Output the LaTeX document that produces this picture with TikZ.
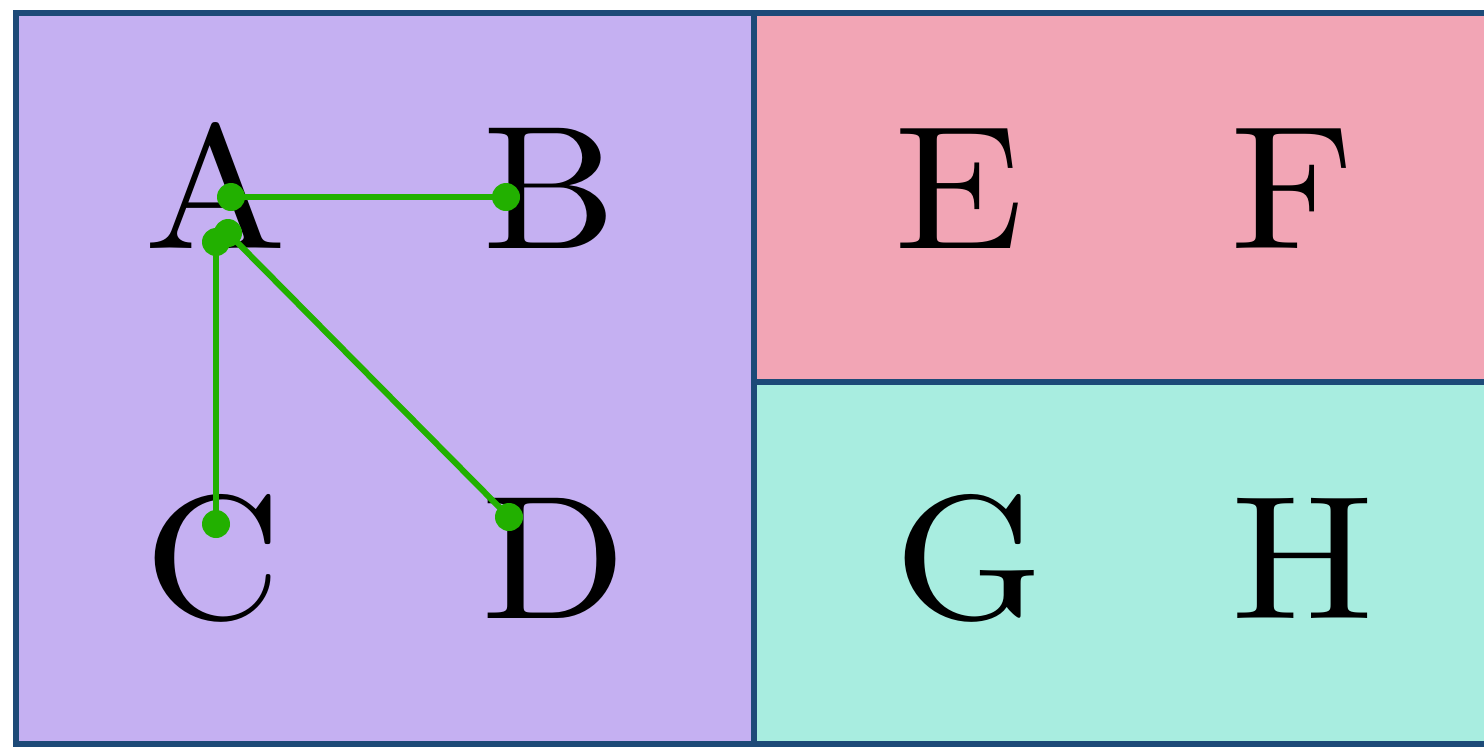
\documentclass[tikz,border=0pt]{standalone}
\usepackage{fontspec}
\newfontfamily\lmten{lmroman10-regular.otf}[FakeStretch=1.08]
\begin{document}
\begin{tikzpicture}[x=0.5pt,y=-0.5pt,
  letter/.style={anchor=base,inner sep=0pt,font=\lmten\fontsize{88}{94}\selectfont},
  panel/.style={draw=borderblue,line width=3pt},
  link/.style={draw=linkgreen,line width=3pt},
  dot/.style={fill=linkgreen}]
\definecolor{borderblue}{HTML}{1D4A78}
\definecolor{lpurple}{HTML}{C5B0F2}
\definecolor{lpink}{HTML}{F2A5B5}
\definecolor{lteal}{HTML}{A8EDE0}
\definecolor{linkgreen}{HTML}{22B000}
\clip (0,0) rectangle (1484,746);
\path[panel,fill=lpurple] (16,13) rectangle (754,744);
\path[panel,fill=lpink] (754,13) rectangle (1520,382);
\path[panel,fill=lteal] (754,382) rectangle (1520,744);
\node[letter] (A) at (216,248) {A};
\node[letter] (B) at (550,248) {B};
\node[letter] (C) at (213,618) {C};
\node[letter] (D) at (554,618) {D};
\node[letter] (E) at (959,248) {E};
\node[letter] (F) at (1293,248) {F};
\node[letter] (G) at (969,618) {G};
\node[letter] (H) at (1303,618) {H};
\coordinate (ab1) at (231,197);
\coordinate (ab2) at (506,197);
\coordinate (ac1) at (216,242);
\coordinate (ac2) at (216,524);
\coordinate (ad1) at (228,233);
\coordinate (ad2) at (509,517);
\draw[link] (ab1) -- (ab2);
\draw[link] (ac1) -- (ac2);
\draw[link] (ad1) -- (ad2);
\foreach \p in {ab1,ab2,ac1,ac2,ad1,ad2}
  \fill[dot] (\p) circle (7pt);
\end{tikzpicture}
\end{document}
